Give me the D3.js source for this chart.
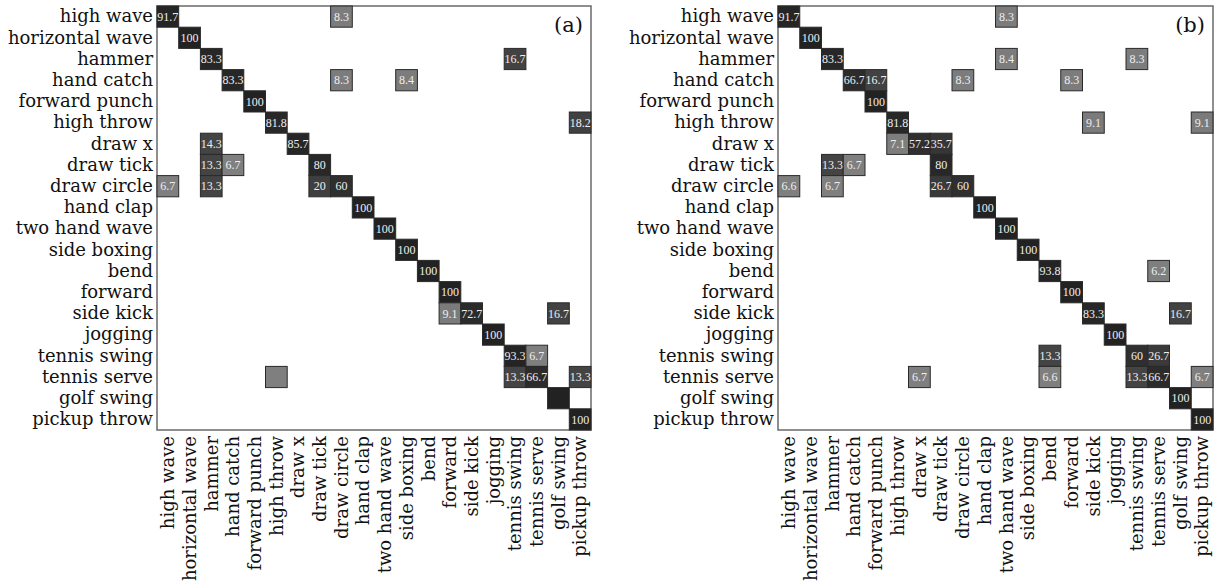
<!DOCTYPE html>
<html>
<head>
<meta charset="utf-8">
<script src="https://cdn.jsdelivr.net/npm/d3@7"></script>
<style>
	body { margin: 0; background: #fff; }
	svg text { font-family: "DejaVu Serif", serif; }
</style>
</head>
<body>
<div id="chart"></div>
<script>
/* confusion matrices (a) and (b) */

var classes = ["high wave", "horizontal wave", "hammer", "hand catch", "forward punch",
	"high throw", "draw x", "draw tick", "draw circle", "hand clap", "two hand wave",
	"side boxing", "bend", "forward", "side kick", "jogging", "tennis swing",
	"tennis serve", "golf swing", "pickup throw"];

// [true class, predicted class, percent]
var cellsA = [
	["high wave", "high wave", 91.7], ["high wave", "draw circle", 8.3],
	["horizontal wave", "horizontal wave", 100],
	["hammer", "hammer", 83.3], ["hammer", "tennis swing", 16.7],
	["hand catch", "hand catch", 83.3], ["hand catch", "draw circle", 8.3], ["hand catch", "side boxing", 8.4],
	["forward punch", "forward punch", 100],
	["high throw", "high throw", 81.8], ["high throw", "pickup throw", 18.2],
	["draw x", "hammer", 14.3], ["draw x", "draw x", 85.7],
	["draw tick", "hammer", 13.3], ["draw tick", "hand catch", 6.7], ["draw tick", "draw tick", 80],
	["draw circle", "high wave", 6.7], ["draw circle", "hammer", 13.3], ["draw circle", "draw tick", 20], ["draw circle", "draw circle", 60],
	["hand clap", "hand clap", 100],
	["two hand wave", "two hand wave", 100],
	["side boxing", "side boxing", 100],
	["bend", "bend", 100],
	["forward", "forward", 100],
	["side kick", "forward", 9.1], ["side kick", "side kick", 72.7], ["side kick", "golf swing", 16.7],
	["jogging", "jogging", 100],
	["tennis swing", "tennis swing", 93.3], ["tennis swing", "tennis serve", 6.7],
	["tennis serve", "high throw", 6.7], ["tennis serve", "tennis swing", 13.3], ["tennis serve", "tennis serve", 66.7], ["tennis serve", "pickup throw", 13.3],
	["golf swing", "golf swing", 100],
	["pickup throw", "pickup throw", 100]
];
// cells printed without their number in (a)
var unlabeledA = ["tennis serve|high throw", "golf swing|golf swing"];

var cellsB = [
	["high wave", "high wave", 91.7], ["high wave", "two hand wave", 8.3],
	["horizontal wave", "horizontal wave", 100],
	["hammer", "hammer", 83.3], ["hammer", "two hand wave", 8.4], ["hammer", "tennis swing", 8.3],
	["hand catch", "hand catch", 66.7], ["hand catch", "forward punch", 16.7], ["hand catch", "draw circle", 8.3], ["hand catch", "forward", 8.3],
	["forward punch", "forward punch", 100],
	["high throw", "high throw", 81.8], ["high throw", "side kick", 9.1], ["high throw", "pickup throw", 9.1],
	["draw x", "high throw", 7.1], ["draw x", "draw x", 57.2], ["draw x", "draw tick", 35.7],
	["draw tick", "hammer", 13.3], ["draw tick", "hand catch", 6.7], ["draw tick", "draw tick", 80],
	["draw circle", "high wave", 6.6], ["draw circle", "hammer", 6.7], ["draw circle", "draw tick", 26.7], ["draw circle", "draw circle", 60],
	["hand clap", "hand clap", 100],
	["two hand wave", "two hand wave", 100],
	["side boxing", "side boxing", 100],
	["bend", "bend", 93.8], ["bend", "tennis serve", 6.2],
	["forward", "forward", 100],
	["side kick", "side kick", 83.3], ["side kick", "golf swing", 16.7],
	["jogging", "jogging", 100],
	["tennis swing", "bend", 13.3], ["tennis swing", "tennis swing", 60], ["tennis swing", "tennis serve", 26.7],
	["tennis serve", "draw x", 6.7], ["tennis serve", "bend", 6.6], ["tennis serve", "tennis swing", 13.3], ["tennis serve", "tennis serve", 66.7], ["tennis serve", "pickup throw", 6.7],
	["golf swing", "golf swing", 100],
	["pickup throw", "pickup throw", 100]
];
var unlabeledB = [];

var width = 1230, height = 588;

var svg = d3.select("#chart").append("svg")
	.attr("width", width)
	.attr("height", height);

// darker cell for higher percentage
var shade = d3.scaleLinear()
	.domain([0, 10, 11, 30, 100])
	.range(["#8a8a8a", "#797979", "#464646", "#383838", "#222222"])
	.clamp(true);

function drawPanel(cells, unlabeled, tag, box){
	var x = d3.scaleBand().domain(classes).range([box.left, box.right]);
	var y = d3.scaleBand().domain(classes).range([box.top, box.bottom]);

	var g = svg.append("g");

	// frame
	g.append("rect")
		.attr("x", box.left)
		.attr("y", box.top)
		.attr("width", box.right - box.left)
		.attr("height", box.bottom - box.top)
		.style("fill", "none")
		.style("stroke", "#6a6a6a")
		.style("stroke-width", 1.5);

	var cell = g.selectAll(".cell")
		.data(cells)
		.enter()
		.append("g")
		.attr("class", "cell");

	cell.append("rect")
		.attr("x", d => x(d[1]))
		.attr("y", d => y(d[0]))
		.attr("width", x.bandwidth())
		.attr("height", y.bandwidth())
		.style("fill", d => shade(d[2]))
		.style("stroke", "#2a2a2a")
		.style("stroke-width", 1);

	cell.filter(d => unlabeled.indexOf(d[0] + "|" + d[1]) < 0)
		.append("text")
		.attr("x", d => x(d[1]) + x.bandwidth()/2)
		.attr("y", d => y(d[0]) + y.bandwidth()/2)
		.attr("dy", ".35em")
		.style("text-anchor", "middle")
		.style("font-family", "Liberation Serif, serif")
		.style("font-size", "12px")
		.style("fill", "#eeeeee")
		.text(d => d3.format("")(d[2]));

	// row labels
	var yAxis = g.append("g")
		.attr("transform", `translate(${box.left}, 0)`)
		.call(d3.axisLeft(y).tickSize(0).tickPadding(4));
	yAxis.select(".domain").remove();
	yAxis.selectAll("text")
		.style("font-family", "DejaVu Serif, serif")
		.style("font-size", "18px")
		.style("fill", "#111");

	// column labels
	var xAxis = g.append("g")
		.attr("transform", `translate(0, ${box.bottom})`)
		.call(d3.axisBottom(x).tickSize(0));
	xAxis.select(".domain").remove();
	xAxis.selectAll("text")
		.attr("transform", "rotate(-90)")
		.attr("x", -6)
		.attr("y", 0)
		.attr("dy", ".35em")
		.style("text-anchor", "end")
		.style("font-family", "DejaVu Serif, serif")
		.style("font-size", "18px")
		.style("fill", "#111");

	g.append("text")
		.attr("x", box.right - 8)
		.attr("y", box.top + 26)
		.style("text-anchor", "end")
		.style("font-size", "21px")
		.style("fill", "#111")
		.text(tag);
}

drawPanel(cellsA, unlabeledA, "(a)", {left: 157, right: 591, top: 6, bottom: 430});
drawPanel(cellsB, unlabeledB, "(b)", {left: 778, right: 1213, top: 6, bottom: 430});
</script>
</body>
</html>
